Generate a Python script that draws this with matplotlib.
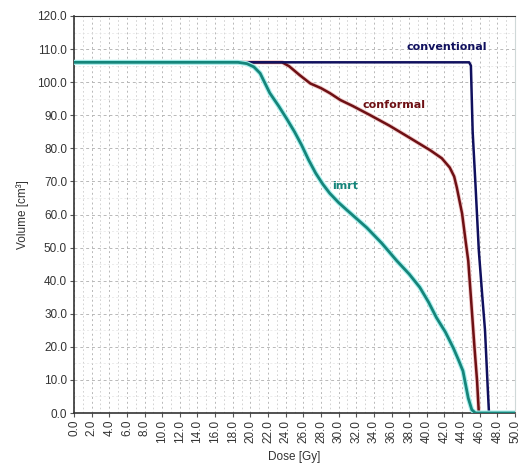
import matplotlib
matplotlib.use("Agg")
import matplotlib.pyplot as plt
import matplotlib.patheffects as pe
from matplotlib.ticker import MultipleLocator

conv_dose = [0.0, 44.8, 45.0, 45.2, 45.5, 45.9, 46.3, 46.6, 46.9, 47.05, 50.0]
conv_vol  = [106.0, 106.0, 105.0, 85.0, 70.0, 49.0, 35.0, 25.0, 8.0, 0.0, 0.0]

conf_dose = [0.0, 23.6, 24.4, 25.6, 26.8, 28.0, 29.0, 30.2, 31.6, 33.6, 35.8, 37.8,
             40.4, 41.7, 42.6, 43.1, 43.4, 44.0, 44.4, 44.7, 45.0, 45.4, 45.7, 45.9, 50.0]
conf_vol  = [106.0, 106.0, 104.8, 102.1, 99.6, 98.2, 96.7, 94.6, 92.8, 90.0, 86.8, 83.6,
             79.4, 77.0, 74.2, 71.5, 68.2, 60.3, 52.0, 46.0, 35.0, 20.0, 9.7, 0.0, 0.0]

imrt_dose = [0.0, 18.6, 19.6, 20.4, 21.1, 22.2, 23.2, 24.1, 25.0, 25.8, 26.6, 27.4,
             28.2, 29.0, 30.0, 31.0, 33.2, 34.9, 36.6, 38.0, 39.2, 40.2, 41.1, 42.1,
             43.0, 43.6, 44.1, 44.7, 45.1, 45.5, 50.0]
imrt_vol  = [106.0, 106.0, 105.6, 104.6, 102.7, 96.7, 92.8, 89.0, 85.0, 81.0, 76.5, 72.5,
             69.2, 66.4, 63.6, 61.2, 56.0, 51.3, 46.0, 42.0, 38.0, 33.5, 28.8, 24.5,
             19.7, 16.0, 12.7, 4.5, 1.0, 0.0, 0.0]

x_ticks = [i * 2.0 for i in range(26)]
y_ticks = [i * 10.0 for i in range(13)]

conv_color = "#10105e"
conf_color = "#6e1014"
imrt_color = "#15857a"

plt.rcParams['font.family'] = ['Liberation Sans', 'DejaVu Sans']

fig = plt.figure(figsize=(5.21, 4.67), dpi=100)
ax = fig.add_axes([74/521, 1 - 413/467, (515 - 74)/521, (413 - 16)/467])

ax.set_xlim(0, 50)
ax.set_ylim(0, 120)

# grid
ax.xaxis.set_minor_locator(MultipleLocator(1))
ax.yaxis.set_minor_locator(MultipleLocator(5))
ax.grid(which='major', axis='x', color='#b8b8b8', linestyle=(0, (2, 3)), linewidth=0.7)
ax.grid(which='minor', axis='x', color='#cccccc', linestyle=(0, (2, 3)), linewidth=0.6)
ax.grid(which='major', axis='y', color='#b8b8b8', linestyle=(0, (3, 3)), linewidth=0.7)
ax.grid(which='minor', axis='y', color='#e4e4e4', linestyle=(0, (3, 3)), linewidth=0.5)
ax.set_axisbelow(True)

ax.plot(conf_dose, conf_vol, color=conf_color, linewidth=1.8,
        path_effects=[pe.Stroke(linewidth=3.0, foreground='#f0c8c8'), pe.Normal()], zorder=3)
ax.plot(conv_dose, conv_vol, color=conv_color, linewidth=1.8, zorder=4)
ax.plot(imrt_dose, imrt_vol, color=imrt_color, linewidth=2.0,
        path_effects=[pe.Stroke(linewidth=3.6, foreground='#a8f0ee'), pe.Normal()], zorder=5)

ax.set_xticks(x_ticks)
ax.set_yticks(y_ticks)
ax.set_xticklabels([f"{v:.1f}" for v in x_ticks], rotation=90, fontsize=8.5, color='#333333')
ax.set_yticklabels([f"{v:.1f}" for v in y_ticks], fontsize=8.5, color='#333333')
ax.tick_params(axis='both', which='major', length=3, width=0.8, color='#555555', pad=2)
ax.tick_params(axis='both', which='minor', length=0)

for s in ['left', 'bottom']:
    ax.spines[s].set_color('#333333')
    ax.spines[s].set_linewidth(1.2)
ax.spines['top'].set_color('#333333')
ax.spines['top'].set_linewidth(0.8)
ax.spines['right'].set_color('#cfd8d8')
ax.spines['right'].set_linewidth(0.8)

ax.set_xlabel("Dose [Gy]", fontsize=8.5, color='#333333', labelpad=6)
ax.set_ylabel("Volume [cm³]", fontsize=8.5, color='#333333', labelpad=6)

ax.text(42.3, 110.6, "conventional", color=conv_color, fontsize=8, fontweight='bold',
        ha='center', va='center', family=['DejaVu Sans'])
ax.text(36.3, 93.0, "conformal", color=conf_color, fontsize=8, fontweight='bold',
        ha='center', va='center', family=['DejaVu Sans'])
ax.text(30.7, 68.5, "imrt", color=imrt_color, fontsize=8, fontweight='bold',
        ha='center', va='center', family=['DejaVu Sans'])

fig.savefig("out.png", dpi=100, facecolor='white')
